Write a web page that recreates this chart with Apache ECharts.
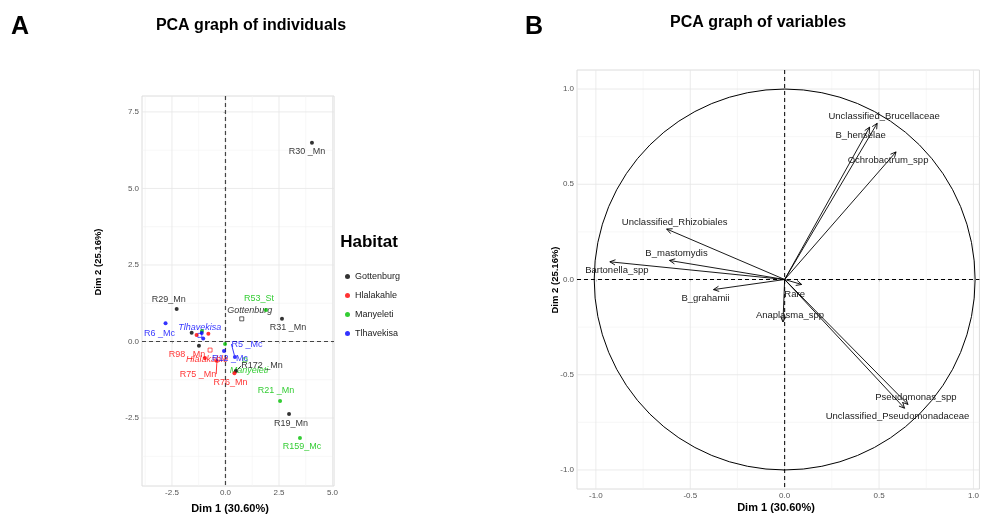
<!DOCTYPE html>
<html><head><meta charset="utf-8">
<script src="https://cdn.jsdelivr.net/npm/echarts@6/dist/echarts.min.js"></script>
<style>html,body{margin:0;padding:0;background:#fff}#c{width:982px;height:514px}</style>
</head><body><div id="c"></div>
<script>
// ---------------- data ----------------
const habitats = ['Gottenburg', 'Hlalakahle', 'Manyeleti', 'Tlhavekisa'];

const gottenburgNames = ['R30 _Mn', 'R29_Mn', 'R31 _Mn', 'R172 _Mn', 'R19_Mn', '', ''];
const gottenburgDim1 = [4.04, -2.28, 2.64, 0.49, 2.97, -1.58, -1.24];
const gottenburgDim2 = [6.49, 1.06, 0.74, -0.96, -2.37, 0.29, -0.14];

const hlalakahleNames = ['R98 _Mn', 'R75 _Mn', 'R76_Mn', '', ''];
const hlalakahleDim1 = [-0.96, -0.40, 0.42, -1.35, -0.80];
const hlalakahleDim2 = [-0.54, -0.64, -1.04, 0.21, 0.25];

const manyeletiNames = ['R53_St', 'R21 _Mn', 'R159_Mc', '', ''];
const manyeletiDim1 = [1.89, 2.55, 3.48, -1.10, -0.02];
const manyeletiDim2 = [1.03, -1.94, -3.15, 0.34, -0.08];

const tlhavekisaNames = ['R6 _Mc', 'R5 _Mc', 'R12 _Mc', '', ''];
const tlhavekisaDim1 = [-2.80, 0.44, -0.07, -1.11, -1.04];
const tlhavekisaDim2 = [0.60, -0.51, -0.31, 0.28, 0.10];

const centroidDim1 = [0.76, -0.72, 0.91, -1.20];
const centroidDim2 = [0.74, -0.28, -0.60, 0.20];

const variableNames = ['Unclassified_Brucellaceae', 'B_henselae', 'Ochrobactrum_spp',
  'Unclassified_Rhizobiales', 'B_mastomydis', 'Bartonella_spp', 'B_grahamii', 'Rare',
  'Anaplasma_spp', 'Pseudomonas_spp', 'Unclassified_Pseudomonadaceae'];
const variableDim1 = [0.49, 0.45, 0.59, -0.625, -0.61, -0.926, -0.377, 0.09, -0.009, 0.653, 0.635];
const variableDim2 = [0.82, 0.80, 0.67, 0.265, 0.10, 0.093, -0.053, -0.026, -0.223, -0.656, -0.676];

const leftXTicks = [-2.5, 0, 2.5, 5];
const leftYTicks = [-2.5, 0, 2.5, 5, 7.5];
const leftXMinor = [-3.75, -1.25, 1.25, 3.75];
const leftYMinor = [-3.75, -1.25, 1.25, 3.75, 6.25];
const rightTicks = [-1, -0.5, 0, 0.5, 1];
const rightMinor = [-0.75, -0.25, 0.25, 0.75];

// ---------------- styles ----------------
const NARROW = "'Liberation Sans Narrow','Liberation Sans',Arial,sans-serif";
const SANS = "'Liberation Sans',Arial,sans-serif";
const habitatColors = ['#000000', '#ff0000', '#00c000', '#0000ff'];

const indivLabelOffsets = {
  'R30 _Mn': [-5, 9], 'R29_Mn': [-8, -10], 'R31 _Mn': [6, 9], 'R172 _Mn': [26, -5], 'R19_Mn': [2, 9],
  'R98 _Mn': [-18, -4], 'R75 _Mn': [-19, 13], 'R76_Mn': [-4, 9],
  'R53_St': [-7, -11], 'R21 _Mn': [-4, -10], 'R159_Mc': [2, 9],
  'R6 _Mc': [-6, 10], 'R5 _Mc': [12, -13], 'R12 _Mc': [6, 8]
};
const leaderLines = ['R172 _Mn', 'R75 _Mn', 'R5 _Mc'];
const centroidLabelOffsets = [[8, -8], [-3, 9], [4, 11], [0, -8]];

const variableLabelOffsets = {
  'Unclassified_Brucellaceae': [7, -7], 'B_henselae': [-9, 8], 'Ochrobactrum_spp': [-8, 8],
  'Unclassified_Rhizobiales': [8, -7], 'B_mastomydis': [7, -7], 'Bartonella_spp': [7, 9],
  'B_grahamii': [-8, 9], 'Rare': [-7, 10], 'Anaplasma_spp': [7, -7],
  'Pseudomonas_spp': [8, -7], 'Unclassified_Pseudomonadaceae': [-7, 8]
};

function indivSeries(i, names, d1, d2) {
  const color = habitatColors[i];
  return {
    type: 'scatter', name: habitats[i], xAxisIndex: 0, yAxisIndex: 0,
    symbol: 'circle', symbolSize: 4, z: 5, itemStyle: { color },
    emphasis: { disabled: true },
    data: names.map((n, k) => ({
      value: [d1[k], d2[k]], name: n,
      label: { show: n !== '' },
      labelLine: { show: leaderLines.includes(n) }
    })),
    label: { show: true, position: 'inside', formatter: p => p.name, color, fontSize: 9,
      fontFamily: NARROW, textBorderWidth: 0 },
    labelLine: { show: false, lineStyle: { color, width: 0.8 } },
    labelLayout: p => { const o = indivLabelOffsets[names[p.dataIndex]] || [0, 0]; return { dx: o[0], dy: o[1] }; }
  };
}

function gridSeries(axisIdx, xVals, yVals, style, z) {
  return {
    type: 'custom', xAxisIndex: axisIdx, yAxisIndex: axisIdx, silent: true, z,
    data: xVals.map(v => [v, 0, 0]).concat(yVals.map(v => [0, v, 1])),
    encode: { x: 0, y: 1 },
    renderItem: (params, api) => {
      const cs = params.coordSys;
      if (api.value(2) === 0) {
        const px = api.coord([api.value(0), 0])[0];
        return { type: 'line', shape: { x1: px, y1: cs.y, x2: px, y2: cs.y + cs.height }, style: Object.assign({}, style) };
      }
      const py = api.coord([0, api.value(1)])[1];
      return { type: 'line', shape: { x1: cs.x, y1: py, x2: cs.x + cs.width, y2: py }, style: Object.assign({}, style) };
    }
  };
}

function axisPair(idx, min, max, ticks, fontFamily) {
  return {
    gridIndex: idx, type: 'value', min, max,
    axisLine: { show: false },
    axisTick: { show: true, customValues: ticks, length: 2, lineStyle: { color: '#a0a0a0', width: 0.8 } },
    axisLabel: { customValues: ticks, formatter: v => v.toFixed(1), fontSize: 8, color: '#555', fontFamily, margin: 3 },
    splitLine: { show: false }
  };
}

const series = [
  gridSeries(0, leftXMinor, leftYMinor, { stroke: '#f2f2f2', lineWidth: 0.6 }, 0),
  gridSeries(0, leftXTicks, leftYTicks, { stroke: '#e6e6e6', lineWidth: 0.8 }, 1),
  gridSeries(0, [0], [0], { stroke: '#444', lineWidth: 1.2, lineDash: [4, 3] }, 2),
  gridSeries(1, rightMinor, rightMinor, { stroke: '#f2f2f2', lineWidth: 0.6 }, 0),
  gridSeries(1, rightTicks, rightTicks, { stroke: '#e6e6e6', lineWidth: 0.8 }, 1),
  gridSeries(1, [0], [0], { stroke: '#000', lineWidth: 1, lineDash: [4, 3] }, 2),
  indivSeries(0, gottenburgNames, gottenburgDim1, gottenburgDim2),
  indivSeries(1, hlalakahleNames, hlalakahleDim1, hlalakahleDim2),
  indivSeries(2, manyeletiNames, manyeletiDim1, manyeletiDim2),
  indivSeries(3, tlhavekisaNames, tlhavekisaDim1, tlhavekisaDim2),
  {
    type: 'scatter', name: 'centroids', xAxisIndex: 0, yAxisIndex: 0, symbol: 'rect', symbolSize: 4, z: 4,
    emphasis: { disabled: true },
    data: habitats.map((h, k) => ({
      value: [centroidDim1[k], centroidDim2[k]], name: h,
      itemStyle: { color: '#fff', borderColor: habitatColors[k], borderWidth: 0.8 },
      label: { color: habitatColors[k] }
    })),
    label: { show: true, position: 'inside', formatter: p => p.name, fontSize: 9, fontStyle: 'italic',
      fontFamily: NARROW, textBorderWidth: 0 },
    labelLayout: p => { const o = centroidLabelOffsets[p.dataIndex]; return { dx: o[0], dy: o[1] }; }
  },
  {
    type: 'custom', xAxisIndex: 1, yAxisIndex: 1, silent: true, z: 3,
    data: [[0, 0]],
    renderItem: (params, api) => {
      const c = api.coord([0, 0]);
      const r = api.size([1, 1]);
      return { type: 'circle', shape: { cx: c[0], cy: c[1], r: r[1] }, style: { fill: 'none', stroke: '#000', lineWidth: 1 } };
    }
  },
  {
    type: 'custom', xAxisIndex: 1, yAxisIndex: 1, silent: true, z: 4,
    data: variableNames.map((n, k) => ({ value: [variableDim1[k], variableDim2[k]], name: n })),
    renderItem: (params, api) => {
      const p0 = api.coord([0, 0]);
      const p1 = api.coord([api.value(0), api.value(1)]);
      const ang = Math.atan2(p1[1] - p0[1], p1[0] - p0[0]);
      const L = 6, a = Math.PI / 7;
      const h1 = [p1[0] - L * Math.cos(ang - a), p1[1] - L * Math.sin(ang - a)];
      const h2 = [p1[0] - L * Math.cos(ang + a), p1[1] - L * Math.sin(ang + a)];
      const name = variableNames[params.dataIndex];
      const o = variableLabelOffsets[name] || [0, 0];
      return {
        type: 'group', children: [
          { type: 'line', shape: { x1: p0[0], y1: p0[1], x2: p1[0], y2: p1[1] }, style: { stroke: '#000', lineWidth: 0.9 } },
          { type: 'polyline', shape: { points: [h1, p1, h2] }, style: { stroke: '#000', lineWidth: 0.9, fill: 'none' } },
          { type: 'text', x: p1[0] + o[0], y: p1[1] + o[1], style: { text: name, align: 'center', verticalAlign: 'middle',
            fill: '#1a1a1a', fontSize: 9.5, fontFamily: SANS } }
        ]
      };
    }
  }
];

const option = {
  animation: false,
  backgroundColor: '#fff',
  grid: [
    { left: 142, top: 96, width: 192, height: 390, show: true, borderColor: '#dcdcdc', borderWidth: 1, backgroundColor: '#fff' },
    { left: 577, top: 70, width: 405, height: 419, show: true, borderColor: '#dcdcdc', borderWidth: 1, backgroundColor: '#fff' }
  ],
  xAxis: [axisPair(0, -3.9, 5.07, leftXTicks, NARROW), axisPair(1, -1.1, 1.0316, rightTicks, SANS)],
  yAxis: [axisPair(0, -4.72, 8.02, leftYTicks, NARROW), axisPair(1, -1.1, 1.1, rightTicks, SANS)],
  legend: {
    data: habitats, orient: 'vertical', left: 340, top: 266, icon: 'circle',
    itemWidth: 5, itemHeight: 5, itemGap: 8, selectedMode: false,
    textStyle: { fontSize: 9, fontFamily: NARROW, color: '#1a1a1a', lineHeight: 11 }
  },
  graphic: [
    { type: 'text', x: 20, y: 27, style: { text: 'A', align: 'center', verticalAlign: 'middle', fontSize: 25, fontWeight: 'bold', fontFamily: SANS, fill: '#000' } },
    { type: 'text', x: 534, y: 27, style: { text: 'B', align: 'center', verticalAlign: 'middle', fontSize: 25, fontWeight: 'bold', fontFamily: SANS, fill: '#000' } },
    { type: 'text', x: 251, y: 26, style: { text: 'PCA graph of individuals', align: 'center', verticalAlign: 'middle', fontSize: 16, fontWeight: 'bold', fontFamily: SANS, fill: '#000' } },
    { type: 'text', x: 758, y: 23, style: { text: 'PCA graph of variables', align: 'center', verticalAlign: 'middle', fontSize: 16, fontWeight: 'bold', fontFamily: SANS, fill: '#000' } },
    { type: 'text', x: 369, y: 242, style: { text: 'Habitat', align: 'center', verticalAlign: 'middle', fontSize: 17, fontWeight: 'bold', fontFamily: NARROW, fill: '#000' } },
    { type: 'text', x: 98, y: 262, rotation: Math.PI / 2, style: { text: 'Dim 2 (25.16%)', align: 'center', verticalAlign: 'middle', fontSize: 9.5, fontWeight: 'bold', fontFamily: SANS, fill: '#000' } },
    { type: 'text', x: 555, y: 280, rotation: Math.PI / 2, style: { text: 'Dim 2 (25.16%)', align: 'center', verticalAlign: 'middle', fontSize: 9.5, fontWeight: 'bold', fontFamily: SANS, fill: '#000' } },
    { type: 'text', x: 230, y: 509, style: { text: 'Dim 1 (30.60%)', align: 'center', verticalAlign: 'middle', fontSize: 11, fontWeight: 'bold', fontFamily: NARROW, fill: '#000' } },
    { type: 'text', x: 776, y: 508, style: { text: 'Dim 1 (30.60%)', align: 'center', verticalAlign: 'middle', fontSize: 11, fontWeight: 'bold', fontFamily: NARROW, fill: '#000' } }
  ],
  series
};

const chart = echarts.init(document.getElementById('c'), null, { renderer: 'canvas' });
chart.setOption(option);
</script>
</body></html>
